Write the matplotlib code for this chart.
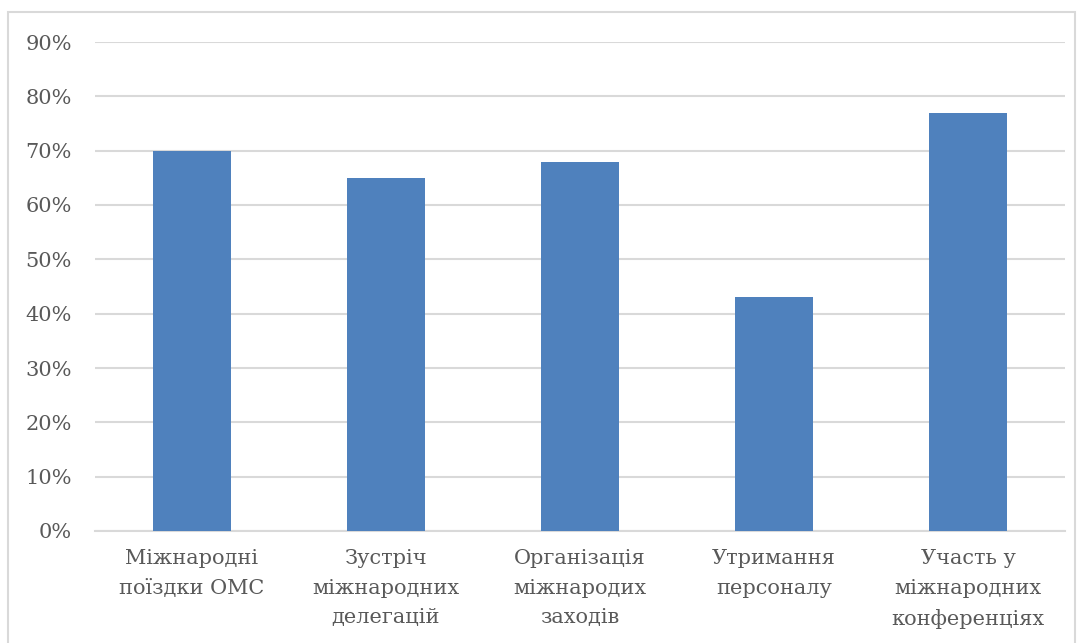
import matplotlib.pyplot as plt
from matplotlib.patches import Rectangle
from matplotlib.ticker import PercentFormatter

categories = ["Міжнародні\nпоїздки ОМС",
              "Зустріч\nміжнародних\nделегацій",
              "Організація\nміжнародих\nзаходів",
              "Утримання\nперсоналу",
              "Участь у\nміжнародних\nконференціях"]
values = [0.70, 0.65, 0.68, 0.43, 0.77]
yticks = [0.0, 0.1, 0.2, 0.3, 0.4, 0.5, 0.6, 0.7, 0.8, 0.9]

text_col = "#595959"
grid_col = "#d9d9d9"
bar_col = "#4f81bd"

plt.rcParams["font.family"] = ["DejaVu Serif"]

fig = plt.figure(figsize=(10.82, 6.43), dpi=100)
W, H = 1082, 643
ax = fig.add_axes([95 / W, 1 - 531 / H, (1065 - 95) / W, (531 - 42) / H])

x = range(len(categories))
ax.bar(x, values, width=0.40, color=bar_col, zorder=3)

ax.set_xlim(-0.5, len(categories) - 0.5)
ax.set_ylim(0, 0.9)
ax.set_yticks(yticks)
ax.yaxis.set_major_formatter(PercentFormatter(1.0, decimals=0))
ax.set_xticks(list(x))
ax.set_xticklabels(categories, linespacing=1.7)

ax.grid(axis="y", color=grid_col, linewidth=1.5, zorder=0)
for s in ["top", "right", "left"]:
    ax.spines[s].set_visible(False)
ax.spines["bottom"].set_color(grid_col)
ax.spines["bottom"].set_linewidth(1.5)
ax.tick_params(length=0, colors=text_col, labelsize=15)
ax.tick_params(axis="y", pad=16.5)
ax.tick_params(axis="x", pad=13)

# outer chart frame
fig.patches.append(Rectangle((8 / W, -0.05), (1075 - 8) / W, 1.05 - 12 / H,
                             transform=fig.transFigure, fill=False,
                             edgecolor=grid_col, linewidth=1.5))

fig.savefig("out.png", dpi=100)
